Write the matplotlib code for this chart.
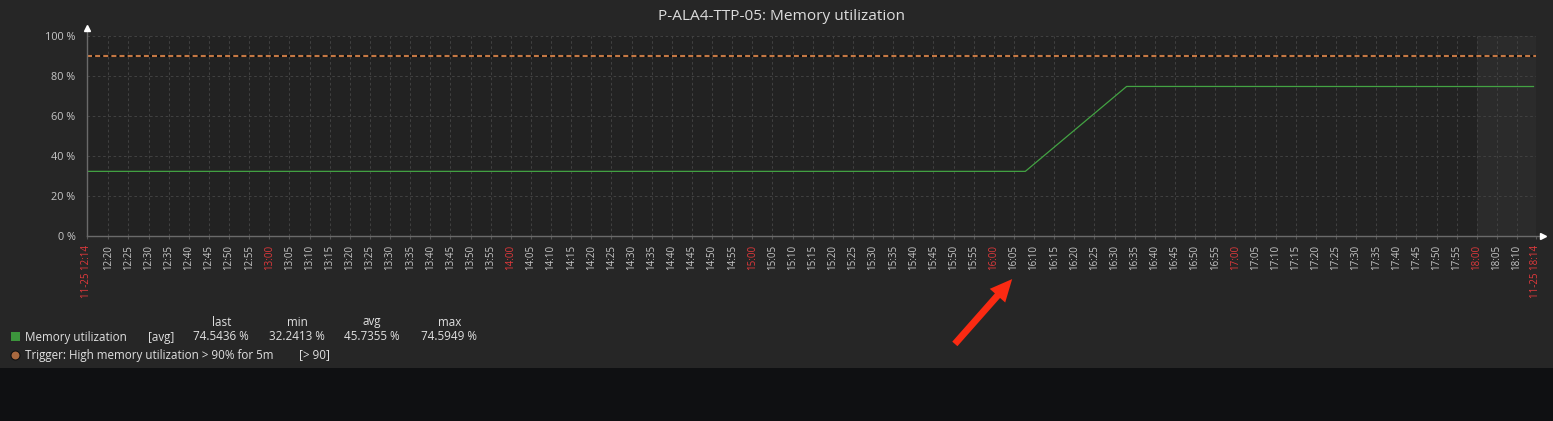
import matplotlib
matplotlib.use("Agg")
import matplotlib.pyplot as plt
from matplotlib.patches import Rectangle

# ---------------- data ----------------
title = "P-ALA4-TTP-05: Memory utilization"
date_label = "11-25"
range_start = "12:14:38"
range_end = "18:14:38"
shade_start = "18:00:00"          # non-working time shading
mem_times = ["12:14:38", "16:07:50", "16:33:00", "18:14:05"]
mem_values = [32.24, 32.24, 74.59, 74.55]
trigger_value = 90
y_ticks = [0, 20, 40, 60, 80, 100]
y_tick_labels = ["0 %", "20 %", "40 %", "60 %", "80 %", "100 %"]
legend_header = ["last", "min", "avg", "max"]
legend_item = "Memory utilization"
legend_func = "[avg]"
legend_stats = ["74.5436 %", "32.2413 %", "45.7355 %", "74.5949 %"]
trigger_text = "Trigger: High memory utilization > 90% for 5m"
trigger_cond = "[> 90]"


def tmin(s):
    p = [int(v) for v in s.split(":")]
    return p[0] * 60 + p[1] + (p[2] / 60 if len(p) > 2 else 0)


# ---------------- style ----------------
W, H = 1553, 421
FONT = ["Open Sans", "DejaVu Sans"]
plt.rcParams["font.family"] = FONT
PANEL = "#262626"
PLOT_BG = "#222222"
SHADE = "#2b2b2b"
GRID = "#404040"
TXT = "#c8c8c8"
RED = "#e2393c"
GREEN = "#43a343"
ORANGE = "#c47844"
LEG = "#e0e0e0"

fig = plt.figure(figsize=(W / 100, H / 100), dpi=100, facecolor="#0f1012")
fig.patches.append(Rectangle((0, (H - 368) / H), 1, 368 / H, transform=fig.transFigure,
                             facecolor=PANEL, edgecolor="none", zorder=-10))


def fx(px):
    return px / W


def fy(py):
    return 1 - py / H


ax_l, ax_r, ax_t, ax_b = 86.7, 1535.7, 35.5, 236.0
ax = fig.add_axes([fx(ax_l), fy(ax_b), (ax_r - ax_l) / W, (ax_b - ax_t) / H])
ax.set_facecolor(PLOT_BG)

x0, x1 = tmin(range_start), tmin(range_end)
ax.set_xlim(x0, x1)
ax.set_ylim(0, 100)

# shaded region
ax.axvspan(tmin(shade_start), x1, color=SHADE, zorder=0, lw=0)

# grid ticks every 5 min
first = (int(x0) // 5 + 1) * 5
if first - x0 < 3:
    first += 5
grid_x = list(range(first, int(x1) + 1, 5))
if x1 - grid_x[-1] < 3:
    grid_x = grid_x[:-1]
for gx in grid_x + [x1]:
    ax.axvline(gx, color=GRID, lw=0.75, ls=(0, (2.5, 2.5)), zorder=1)
for gy in y_ticks[1:]:
    ax.axhline(gy, color=GRID, lw=0.75, ls=(0, (2.5, 2.5)), zorder=1)

# trigger line
ax.axhline(trigger_value, color="#111111", lw=1.5, zorder=2)
ax.axhline(trigger_value, color=ORANGE, lw=1.5, ls=(0, (2.4, 1.5)), zorder=3)

# series
ax.plot([tmin(t) for t in mem_times], mem_values, color=GREEN, lw=0.9, zorder=4)

# spines
for s in ax.spines.values():
    s.set_visible(False)
ax.plot([0, 0], [0, 1.037], transform=ax.transAxes, color="#6a6a6a", lw=1, clip_on=False, zorder=5)
ax.plot([0, 1.005], [0, 0], transform=ax.transAxes, color="#6a6a6a", lw=1, clip_on=False, zorder=5)
ax.plot([0], [1.037], transform=ax.transAxes, marker="^", ms=4.5, color="white", clip_on=False, zorder=6)
ax.plot([1.005], [0], transform=ax.transAxes, marker=">", ms=4.5, color="white", clip_on=False, zorder=6)

# y ticks
ax.set_yticks(y_ticks)
ax.set_yticklabels(y_tick_labels, fontsize=7.8, color=TXT)
ax.tick_params(axis="y", length=0, pad=8)

# x ticks
xt = [x0] + grid_x + [x1]
labels = []
colors = []


def fmt(m):
    m = int(m + 1e-6)
    return f"{m // 60:02d}:{m % 60:02d}"


labels.append(f"{date_label} {fmt(x0)}")
colors.append(RED)
for g in grid_x:
    labels.append(fmt(g))
    colors.append(RED if g % 60 == 0 else TXT)
labels.append(f"{date_label} {fmt(x1)}")
colors.append(RED)
ax.set_xticks(xt)
ax.set_xticklabels(labels, rotation=90, fontsize=7.0, va="top", ha="center")
for lab, c in zip(ax.get_xticklabels(), colors):
    lab.set_color(c)
ax.tick_params(axis="x", length=2, color="#555555", pad=4.5)

# title
fig.text(fx(782), fy(17), title, fontsize=11.1, color="#dcdcdc", ha="center", va="center")

# legend
hdr_x = [222, 297, 372, 450]
stat_x = [221, 297, 372, 449]
for hx, h in zip(hdr_x, legend_header):
    fig.text(fx(hx), fy(322), h, fontsize=8.4, color=LEG, ha="center", va="center")
fig.patches.append(Rectangle((fx(11), fy(341)), 9 / W, 9 / H, transform=fig.transFigure,
                             facecolor="#3c953c", edgecolor="none"))
fig.text(fx(25), fy(337), legend_item, fontsize=8.4, color=LEG, ha="left", va="center")
fig.text(fx(148), fy(337), legend_func, fontsize=8.4, color=LEG, ha="left", va="center")
for sx, s in zip(stat_x, legend_stats):
    fig.text(fx(sx), fy(337), s, fontsize=8.4, color=LEG, ha="center", va="center")
ax.plot([fx(15.5)], [fy(354.5)], transform=fig.transFigure, marker="o", ms=6.5,
        color="#a9693f", mec="#111111", mew=0.8, clip_on=False)
fig.text(fx(25), fy(355), trigger_text, fontsize=8.4, color=LEG, ha="left", va="center")
fig.text(fx(299), fy(355), trigger_cond, fontsize=8.4, color=LEG, ha="left", va="center")

# red annotation arrow
fig.add_artist(matplotlib.patches.FancyArrowPatch(
    (953, H - 346), (1014, H - 277), transform=None,
    arrowstyle="simple,head_length=1.45,head_width=1.35,tail_width=0.45",
    mutation_scale=11, color="#fa2a12", lw=0))

fig.savefig("out.png", dpi=100, facecolor=fig.get_facecolor())
